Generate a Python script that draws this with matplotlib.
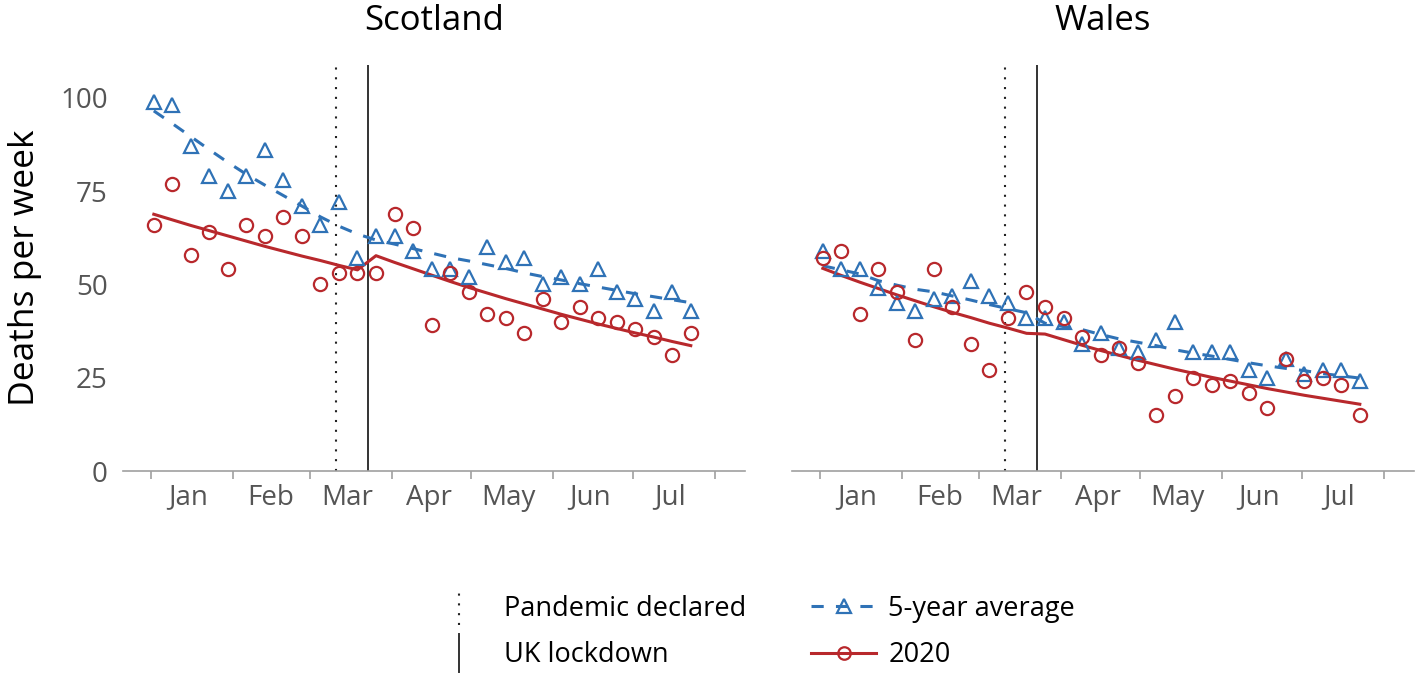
import numpy as np
import pandas as pd
import matplotlib
matplotlib.use("Agg")
import matplotlib.pyplot as plt
import matplotlib.dates as mdates
from matplotlib.lines import Line2D
from matplotlib.legend_handler import HandlerBase

plt.rcParams['font.family'] = ['Open Sans', 'DejaVu Sans']

# weekly data, 2020 weeks 1-30
weeks = pd.date_range("2020-01-02", periods=30, freq="7D")

scot_avg = [99, 98, 87, 79, 75, 79, 86, 78, 71, 66, 72, 57, 63, 63, 59,
            54, 54, 52, 60, 56, 57, 50, 52, 50, 54, 48, 46, 43, 48, 43]
scot_2020 = [66, 77, 58, 64, 54, 66, 63, 68, 63, 50, 53, 53, 53, 69, 65,
             39, 53, 48, 42, 41, 37, 46, 40, 44, 41, 40, 38, 36, 31, 37]
scot_avg_fit = [96.5, 93.1, 89.6, 86.1, 82.7, 79.5, 76.6, 73.8, 71.0, 68.1,
                65.6, 63.5, 61.9, 60.8, 59.6, 58.4, 57.2, 56.3, 55.3, 54.3,
                53.1, 52.1, 51.2, 50.2, 49.3, 48.4, 47.5, 46.7, 45.9, 45.1]
scot_2020_fit = [68.8, 67.3, 65.8, 64.4, 63.0, 61.6, 60.2, 58.9, 57.6, 56.4,
                 55.1, 53.9, 57.7, 55.9, 54.2, 52.5, 50.8, 49.2, 47.7, 46.2,
                 44.8, 43.4, 42.0, 40.7, 39.4, 38.2, 37.0, 35.9, 34.7, 33.6]

wales_avg = [59, 54, 54, 49, 45, 43, 46, 47, 51, 47, 45, 41, 41, 40, 34,
             37, 33, 32, 35, 40, 32, 32, 32, 27, 25, 30, 26, 27, 27, 24]
wales_2020 = [57, 59, 42, 54, 48, 35, 54, 44, 34, 27, 41, 48, 44, 41, 36,
              31, 33, 29, 15, 20, 25, 23, 24, 21, 17, 30, 24, 25, 23, 15]
wales_avg_fit = [55.0, 53.9, 52.8, 51.0, 49.8, 48.7, 48.0, 46.9, 45.8, 44.6,
                 43.5, 42.4, 39.6, 38.7, 37.9, 36.6, 35.4, 34.5, 33.6, 32.5,
                 31.6, 30.8, 29.9, 29.0, 28.2, 27.5, 26.9, 26.1, 25.5, 24.9]
wales_2020_fit = [54.3, 52.4, 50.6, 48.9, 47.2, 45.6, 44.0, 42.5, 41.1, 39.6,
                  38.3, 36.9, 36.7, 35.2, 33.7, 32.3, 31.0, 29.7, 28.5, 27.3,
                  26.2, 25.1, 24.1, 23.1, 22.1, 21.2, 20.3, 19.5, 18.7, 17.9]

pandemic = pd.Timestamp("2020-03-11")
lockdown = pd.Timestamp("2020-03-23")

blue = "#2f72b6"
red = "#b8282c"
grey_txt = "#555555"
axis_col = "#a0a0a0"


class VLineHandler(HandlerBase):
    # legend glyph: a vertical line like the ones in the panels
    def create_artists(self, legend, orig_handle, xdescent, ydescent,
                       width, height, fontsize, trans):
        x = width / 2 - xdescent
        yc = height / 2 - ydescent
        line = Line2D([x, x], [yc - 0.7 * fontsize, yc + 0.7 * fontsize])
        line.update_from(orig_handle)
        line.set_transform(trans)
        return [line]


fig = plt.figure(figsize=(14.18, 6.79), dpi=100)
ax1 = fig.add_axes([0.0867, 0.3063, 0.4387, 0.598])
ax2 = fig.add_axes([0.5585, 0.3063, 0.4387, 0.598])

panels = [
    (ax1, "Scotland", scot_avg, scot_2020, scot_avg_fit, scot_2020_fit),
    (ax2, "Wales", wales_avg, wales_2020, wales_avg_fit, wales_2020_fit),
]

for ax, title, avg, obs, avg_fit, obs_fit in panels:
    ax.axvline(pandemic, color="#222222", lw=1.5, ls=(0, (1, 3.7)), zorder=1)
    ax.axvline(lockdown, color="#333333", lw=1.4, zorder=1)
    ax.plot(weeks, avg_fit, color=blue, lw=2.2, dashes=(4, 4), zorder=2)
    ax.plot(weeks, obs_fit, color=red, lw=2.2, zorder=2)
    ax.plot(weeks, avg, ls="none", marker="^", ms=10.5, mfc="none",
            mec=blue, mew=1.6, zorder=3)
    ax.plot(weeks, obs, ls="none", marker="o", ms=9.5, mfc="none",
            mec=red, mew=1.6, zorder=3)

    ax.set_xlim(pd.Timestamp("2019-12-21 08:00"), pd.Timestamp("2020-08-12 12:00"))
    ax.set_ylim(0, 108.8)
    ax.set_title(title, fontsize=25, pad=25)

    ax.xaxis.set_major_locator(mdates.MonthLocator())
    ax.xaxis.set_major_formatter(plt.NullFormatter())
    ax.xaxis.set_minor_locator(mdates.MonthLocator(bymonthday=15))
    ax.xaxis.set_minor_formatter(mdates.DateFormatter("%b"))
    ax.tick_params(axis="x", which="major", length=6, width=1.2, color=axis_col)
    ax.tick_params(axis="x", which="minor", length=0, pad=9,
                   labelsize=20, labelcolor=grey_txt)

    ax.set_yticks([0, 25, 50, 75, 100])
    ax.tick_params(axis="y", length=0, pad=11, labelsize=20, labelcolor=grey_txt)

    for s in ["left", "top", "right"]:
        ax.spines[s].set_visible(False)
    ax.spines["bottom"].set_color(axis_col)
    ax.spines["bottom"].set_linewidth(1.2)

ax2.tick_params(axis="y", labelleft=False)
ax1.set_ylabel("Deaths per week", fontsize=25.5, labelpad=13)

h_pan = Line2D([], [], color="#222222", lw=1.5, ls=(0, (1, 3.7)))
h_lock = Line2D([], [], color="#333333", lw=1.4)
h_avg = Line2D([], [], color=blue, lw=2.2, dashes=(4, 4), marker="^",
               ms=10, mfc="none", mec=blue, mew=1.6)
h_obs = Line2D([], [], color=red, lw=2.2, marker="o", ms=9,
               mfc="none", mec=red, mew=1.6)

fig.legend([h_pan, h_lock, h_avg, h_obs],
           ["Pandemic declared", "UK lockdown", "5-year average", "2020"],
           handler_map={h_pan: VLineHandler(), h_lock: VLineHandler()},
           ncol=2, loc="center", bbox_to_anchor=(751 / 1418, 0.069),
           frameon=False, fontsize=19.5, handlelength=2.4, handletextpad=0.45,
           columnspacing=2.4, labelspacing=0.68)

fig.savefig("out.png", dpi=100)
